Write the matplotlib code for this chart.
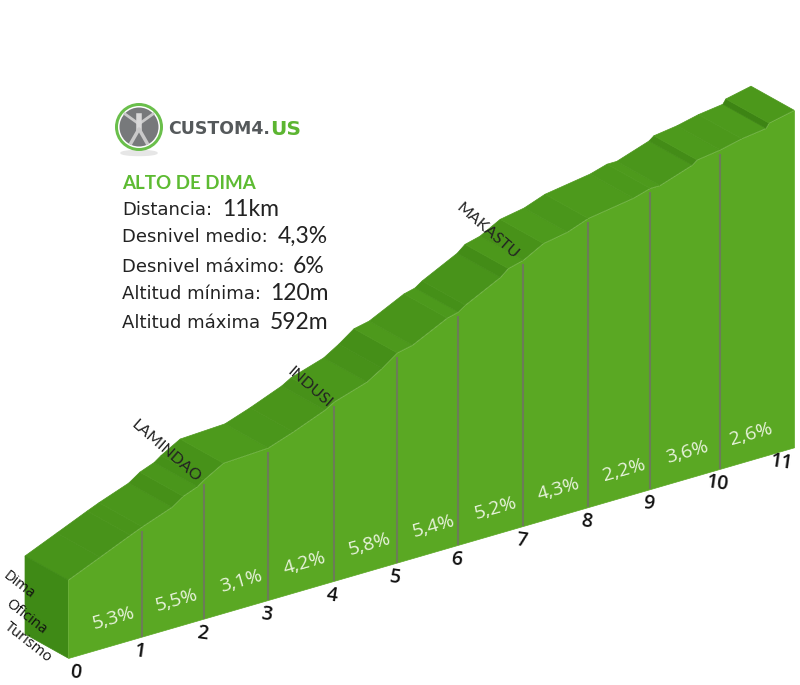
import matplotlib
matplotlib.use("Agg")
import matplotlib.pyplot as plt
from matplotlib.patches import Polygon, Circle, Ellipse
import numpy as np

# profile (km, altitude in m)
km = [0, 0.43, 0.84, 1.0, 1.48, 1.66, 1.89, 2.0, 2.3, 3.0, 3.38, 3.86, 4.0, 4.52, 4.76, 5.0,
      5.25, 5.82, 6.0, 6.11, 6.65, 6.77, 7.0, 7.31, 7.68, 8.0, 8.73, 9.0, 9.14, 9.6, 9.67,
      10.0, 10.29, 10.62, 10.66, 11.0]
altitude = [120, 145, 169, 178, 198, 212, 222, 231, 251, 255, 271, 294, 304, 323, 340, 360,
            366, 397, 402, 411, 443, 455, 462, 482, 490, 504, 517, 526, 526, 546, 553,
            559, 568, 574, 582, 592]

km_ticks = [0, 1, 2, 3, 4, 5, 6, 7, 8, 9, 10, 11]
km_px = [68, 142, 204, 268, 334, 397, 458, 523, 588, 650, 720, 794]

gradients = ["5,3%", "5,5%", "3,1%", "4,2%", "5,8%", "5,4%", "5,2%", "4,3%", "2,2%", "3,6%", "2,6%"]
gradient_km = [0.62, 1.56, 2.58, 3.56, 4.56, 5.6, 6.58, 7.55, 8.59, 9.53, 10.42]

climbs = ["LAMINDAO", "INDUSI", "MAKASTU"]
climb_km = [1.38, 3.63, 6.45]
climb_alt = [302, 342, 533]

stats = ["Distancia:", "Desnivel medio:", "Desnivel máximo:", "Altitud mínima:", "Altitud máxima"]
stat_values = ["11km", "4,3%", "6%", "120m", "592m"]

FRONT = "#5aa823"
LIGHT = "#4d9a1c"
DARK = "#3d8414"
SIDE = "#3f8a16"
LINE = "#6c7c58"
DEPTH = (-43, -24)


def to_x(k):
    return np.interp(k, km_ticks, km_px)


def base_y(k):
    return 658 - 0.2902 * (to_x(k) - 68)


def top_y(k, a):
    return base_y(k) - 78 - (np.asarray(a) - 120) * 0.549


fig = plt.figure(figsize=(8, 6.85), dpi=100)
ax = fig.add_axes([0, 0, 1, 1])
ax.set_xlim(0, 800)
ax.set_ylim(685, 0)
ax.axis("off")

k = np.array(km, dtype=float)
a = np.array(altitude, dtype=float)
xs = to_x(k)
ys = top_y(k, a)
bs = base_y(k)

# top surface, one band per stretch, steeper = darker
slopes = np.diff(a) / np.diff(k)
for i in range(len(k) - 1):
    t = np.clip((slopes[i] - 20) / 130, 0, 1)
    c = np.array(matplotlib.colors.to_rgb(LIGHT)) * (1 - t) + np.array(matplotlib.colors.to_rgb(DARK)) * t
    quad = [(xs[i], ys[i]), (xs[i + 1], ys[i + 1]),
            (xs[i + 1] + DEPTH[0], ys[i + 1] + DEPTH[1]), (xs[i] + DEPTH[0], ys[i] + DEPTH[1])]
    ax.add_patch(Polygon(quad, closed=True, facecolor=c, edgecolor=c, linewidth=0.5, zorder=2))

# left end
ax.add_patch(Polygon([(xs[0], ys[0]), (xs[0] + DEPTH[0], ys[0] + DEPTH[1]),
                      (xs[0] + DEPTH[0], bs[0] + DEPTH[1]), (xs[0], bs[0])],
                     closed=True, facecolor=SIDE, edgecolor=SIDE, linewidth=0.5, zorder=2))

# front face
ax.fill_between(xs, ys, bs, color=FRONT, linewidth=0.5, zorder=3)

# km lines
for t in km_ticks[1:-1]:
    ax.plot([to_x(t), to_x(t)], [base_y(t), np.interp(t, k, ys) + 4], color=LINE, lw=1.5, zorder=4,
            solid_capstyle="butt")

for lab, t in zip(gradients, gradient_km):
    ax.text(to_x(t), base_y(t) - 26, lab, color="#e8f3dc", fontsize=14, rotation=16, family="Open Sans",
            ha="center", va="center", rotation_mode="anchor", zorder=5)

for t in km_ticks:
    ax.text(to_x(t) + (7 if t == 0 else -2 if t < 10 else -3 if t == 10 else -13), base_y(t) + 15, str(t),
            color="#111111", fontsize=14, rotation=-8, family="Open Sans", fontweight="semibold",
            ha="center", va="center", rotation_mode="anchor", zorder=5)

for lab, t, h in zip(climbs, climb_km, climb_alt):
    ax.text(to_x(t), top_y(t, h), lab, color="#222222", fontsize=11.5, rotation=-41, family="Lato",
            ha="center", va="center", rotation_mode="anchor", zorder=6)

# start labels
for lab, x, y in zip(["Dima", "Oficina", "Turismo"], [19, 26, 28], [585, 617, 642]):
    ax.text(x, y, lab, color="#111111", fontsize=10.5, rotation=-38, family="Open Sans",
            ha="center", va="center", rotation_mode="anchor", zorder=6)

# logo
ax.add_patch(Ellipse((139, 153), 36, 5, color="#e6e6e6", zorder=1))
ax.add_patch(Circle((139, 127), 24, facecolor="#6abf4b", edgecolor="none", zorder=2))
ax.add_patch(Circle((139, 127), 21, facecolor="white", edgecolor="none", zorder=3))
ax.add_patch(Circle((139, 127), 19.5, facecolor="#77797b", edgecolor="none", zorder=4))
ax.plot([125, 139, 153], [114, 124, 114], color="#c9c9c9", lw=2, zorder=5)
ax.plot([139, 139], [116, 129], color="#d8d8d8", lw=4, zorder=5)
ax.plot([131, 139, 147], [143, 129, 143], color="#c9c9c9", lw=2.5, zorder=5)
ax.text(168, 129, "CUSTOM4.", color="#55595b", fontsize=12.5, family="DejaVu Sans", fontweight="bold",
        va="center", ha="left")
ax.text(270, 129, "US", color="#5cb531", fontsize=14.5, family="DejaVu Sans", fontweight="bold",
        va="center", ha="left")

ax.text(122, 183, "ALTO DE DIMA", color="#5dbb32", fontsize=13.5, family="Lato", fontweight="bold",
        va="center", ha="left")
stat_y = [210, 237, 267, 294, 323]
value_x = [222, 278, 293, 270, 270]
for lab, val, y, vx in zip(stats, stat_values, stat_y, value_x):
    ax.text(122, y, lab, color="#222222", fontsize=13, family="DejaVu Sans", va="center", ha="left")
    ax.text(vx, y - 1, val, color="#222222", fontsize=16.5, family="Lato", va="center", ha="left")

fig.savefig("out.png", dpi=100)
